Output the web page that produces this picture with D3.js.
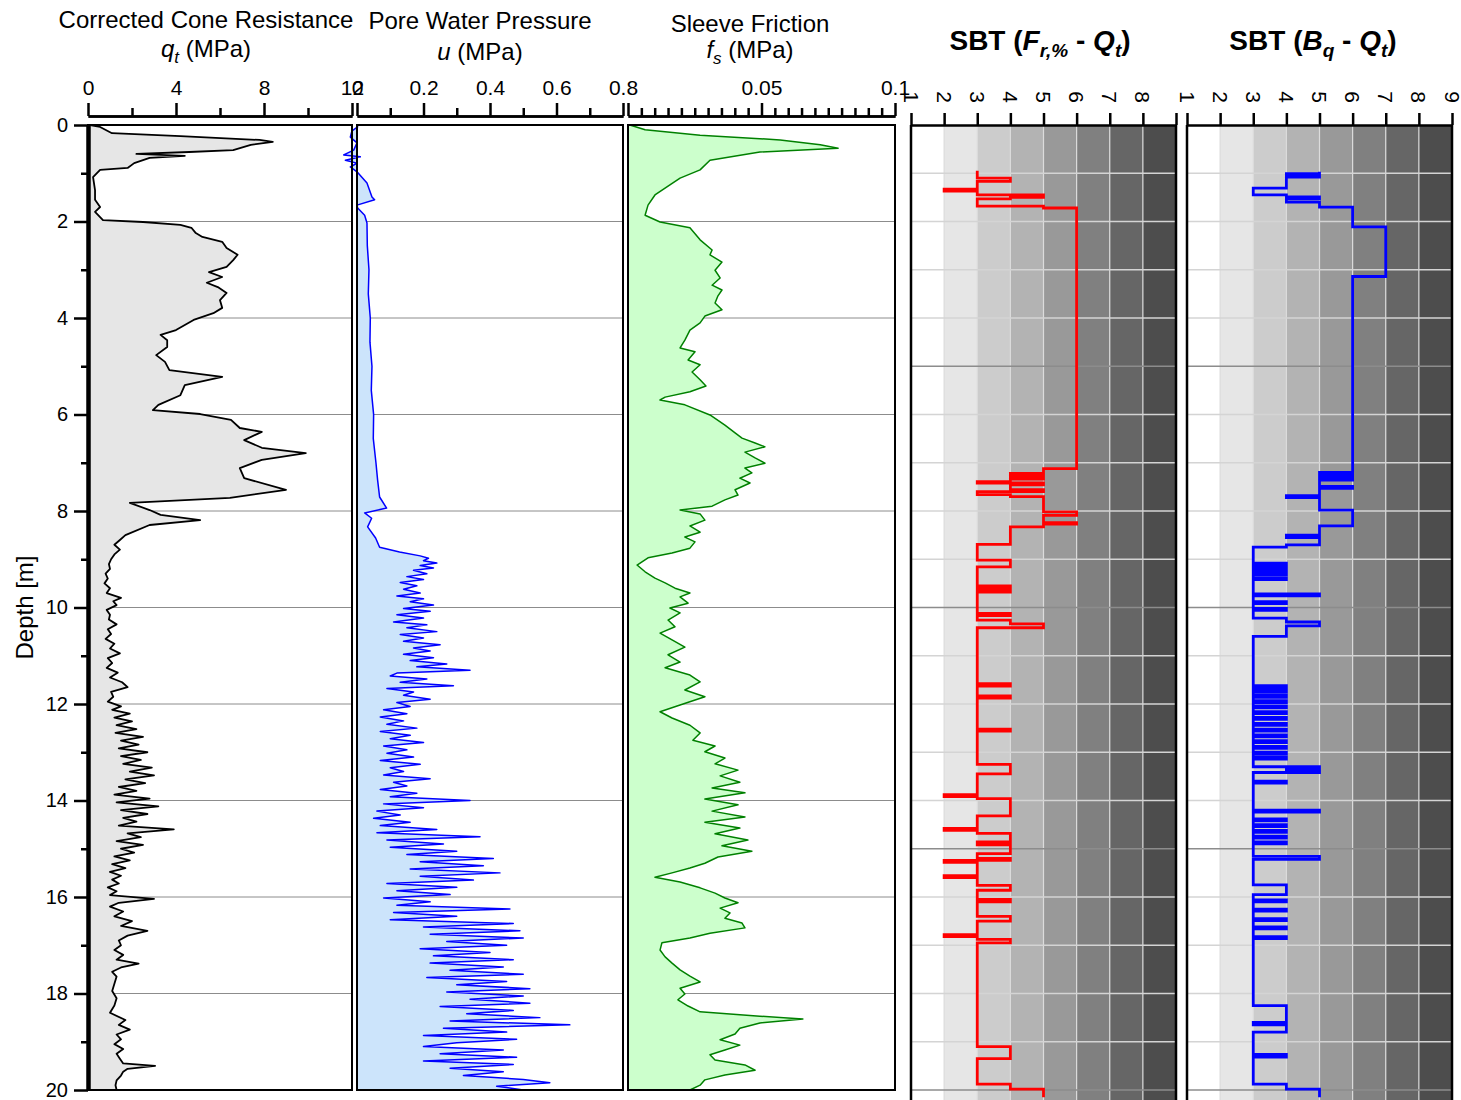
<!DOCTYPE html>
<html>
<head>
<meta charset="utf-8">
<script src="https://cdn.jsdelivr.net/npm/d3@7"></script>
<style>
  body { margin: 0; background: #fff; }
  svg { display: block; }
  text { font-family: Arial, "Liberation Sans", Helvetica, sans-serif; fill: #000; }
</style>
</head>
<body>
<svg id="chart" width="1461" height="1100"></svg>
<script>
// ---- CPT sounding: depth [m] and measured values ----
const qtDepth = [0,0.04,0.17,0.23,0.31,0.35,0.41,0.52,0.56,0.6,0.64,0.68,0.79,0.89,0.93,1.08,1.35,1.55,1.7,1.8,1.97,2.01,2.07,2.13,2.24,2.32,2.42,2.55,2.69,2.8,2.94,3.05,3.15,3.27,3.36,3.48,3.63,3.79,3.9,4.04,4.25,4.35,4.46,4.6,4.77,4.91,5.08,5.22,5.39,5.6,5.8,5.91,5.99,6.11,6.28,6.36,6.53,6.69,6.8,6.94,7.11,7.32,7.56,7.73,7.83,7.98,8.08,8.19,8.29,8.5,8.6,8.7,
  8.8,8.9,9.0,9.1,9.2,9.3,9.4,9.5,9.6,9.7,9.8,9.87,9.95,10.05,10.15,10.25,10.35,10.45,10.55,10.65,10.75,10.85,10.95,11.05,11.15,11.25,11.35,11.45,11.55,11.65,11.75,11.85,11.95,12.05,12.12,12.2,12.28,12.36,12.44,12.52,12.6,12.68,12.76,12.84,12.92,13.0,13.08,13.16,13.24,13.32,13.4,13.48,13.56,13.64,13.72,13.8,13.88,13.96,14.04,14.12,14.2,14.28,14.36,14.44,14.52,14.6,14.68,14.76,14.84,14.92,15.0,15.08,15.16,15.24,15.32,15.4,15.48,15.56,15.64,15.72,15.8,15.88,15.96,16.04,16.12,16.2,16.3,16.4,16.5,16.6,16.7,16.8,16.9,17.0,17.1,17.2,17.3,17.38,17.46,17.55,17.65,17.8,17.95,18.1,18.25,18.4,18.55,18.65,18.75,18.85,18.95,19.05,19.15,19.25,19.35,19.45,19.5,19.56,19.62,19.7,19.8,19.9,20];
const qtValues = [0.09,0.55,1.09,4.2,7.8,8.4,7.4,6.6,4.6,2.2,4.4,2.8,2.1,1.8,0.55,0.23,0.32,0.32,0.55,0.32,0.68,2.5,4.2,4.7,4.9,5.2,6.1,6.3,6.8,6.6,6.3,5.5,6.1,5.4,5.9,6.3,6.0,6.1,5.7,4.8,4.0,3.3,3.6,3.6,3.1,3.5,3.7,6.1,4.4,4.2,3.2,2.95,5.1,6.5,6.9,7.9,7.1,7.9,9.9,7.9,6.9,7.1,9.0,6.45,1.9,2.8,3.3,5.1,2.8,1.7,1.45,1.2,
  1.45,1.2,1.05,0.95,1.0,0.8,0.9,0.75,1.0,0.85,1.5,1.15,1.3,0.85,1.0,0.95,1.3,0.9,1.05,0.8,1.2,1.0,1.45,0.9,1.1,0.85,1.35,1.0,1.55,1.8,1.05,1.15,0.9,1.5,1.1,1.9,1.2,2.0,1.3,2.2,1.25,2.5,1.5,2.3,1.4,2.7,1.5,2.4,1.6,2.9,1.9,3.0,1.7,2.6,1.4,2.2,1.2,2.8,1.3,3.2,1.5,2.7,1.6,2.2,1.4,3.9,1.8,2.4,1.3,2.5,1.5,2.1,1.2,1.9,1.1,1.7,1.0,1.5,1.1,1.4,0.9,1.3,1.0,3.0,1.4,1.0,1.6,1.2,2.0,1.5,2.7,1.8,1.4,1.5,1.2,1.6,1.3,2.3,1.5,1.1,1.3,1.2,1.1,1.3,1.2,1.0,1.7,1.4,1.9,1.3,1.5,1.2,1.6,1.3,1.45,1.6,3.05,1.8,1.6,1.5,1.3,1.25,1.3];

const uDepth = [0,0.04,0.12,0.25,0.37,0.52,0.62,0.66,0.73,0.79,0.87,0.97,1.2,1.49,1.55,1.66,1.72,1.87,2.03,2.5,3.0,3.5,4.0,4.5,5.0,5.5,6.0,6.5,7.0,7.36,7.71,7.94,8.04,8.15,8.33,8.56,8.75,8.85,
  8.93,8.98,9.03,9.08,9.13,9.18,9.23,9.3,9.36,9.42,9.48,9.55,9.62,9.7,9.76,9.82,9.88,9.95,10.02,10.08,10.15,10.22,10.3,10.36,10.42,10.5,10.56,10.63,10.7,10.77,10.84,10.9,10.97,11.04,11.1,11.17,11.23,11.3,11.36,11.42,11.48,11.55,11.62,11.68,11.75,11.82,11.9,11.97,12.05,12.12,12.2,12.27,12.35,12.42,12.5,12.57,12.65,12.72,12.8,12.87,12.95,13.02,13.1,13.17,13.25,13.32,13.4,13.47,13.55,13.62,13.7,13.77,13.85,13.92,14.0,14.07,14.15,14.22,14.3,14.37,14.45,14.52,14.6,14.67,14.75,14.82,14.9,14.97,15.05,15.12,15.2,15.27,15.35,15.42,15.5,15.57,15.65,15.72,15.8,15.87,15.95,16.02,16.1,16.17,16.25,16.32,16.4,16.47,16.55,16.62,16.7,16.77,16.85,16.92,17.0,17.07,17.15,17.22,17.3,17.37,17.45,17.52,17.6,17.67,17.75,17.82,17.9,17.97,18.05,18.12,18.2,18.27,18.35,18.42,18.5,18.57,18.65,18.72,18.8,18.87,18.95,19.02,19.1,19.17,19.25,19.32,19.4,19.47,19.55,19.62,19.7,19.78,19.85,19.92,20];
const uValues = [0,0.002,-0.015,-0.02,0,-0.01,-0.04,0.01,-0.035,0,-0.02,0,0.03,0.045,0.053,0,0.002,0.023,0.03,0.031,0.036,0.034,0.04,0.039,0.045,0.043,0.05,0.049,0.057,0.062,0.068,0.089,0.023,0.044,0.032,0.056,0.068,0.128,
  0.19,0.215,0.2,0.24,0.19,0.23,0.17,0.21,0.15,0.2,0.13,0.18,0.14,0.19,0.12,0.2,0.16,0.23,0.14,0.22,0.12,0.2,0.11,0.21,0.15,0.24,0.13,0.2,0.14,0.25,0.17,0.22,0.14,0.23,0.16,0.27,0.18,0.34,0.12,0.1,0.21,0.13,0.29,0.09,0.17,0.14,0.22,0.12,0.16,0.08,0.15,0.07,0.14,0.09,0.18,0.07,0.16,0.1,0.2,0.08,0.15,0.09,0.17,0.07,0.19,0.1,0.14,0.08,0.22,0.11,0.15,0.07,0.18,0.1,0.34,0.08,0.2,0.06,0.13,0.05,0.16,0.07,0.24,0.06,0.37,0.09,0.26,0.1,0.3,0.15,0.41,0.19,0.38,0.16,0.43,0.19,0.35,0.09,0.3,0.12,0.28,0.08,0.22,0.12,0.46,0.11,0.3,0.1,0.47,0.2,0.49,0.22,0.5,0.27,0.45,0.19,0.4,0.23,0.47,0.22,0.44,0.28,0.5,0.21,0.45,0.3,0.52,0.27,0.5,0.34,0.52,0.25,0.47,0.33,0.55,0.28,0.64,0.26,0.45,0.2,0.48,0.3,0.2,0.44,0.25,0.48,0.2,0.47,0.28,0.44,0.32,0.5,0.58,0.42,0.5];

const fsDepth = [0,0.1,0.21,0.31,0.41,0.48,0.56,0.73,0.93,1.1,1.24,1.45,1.66,1.87,2.01,2.13,2.38,2.59,2.69,2.84,3.01,3.17,3.32,3.42,3.54,3.69,3.83,3.96,4.1,4.25,4.46,4.62,4.7,4.87,4.97,5.12,5.28,5.41,5.53,5.64,5.7,5.8,6.01,6.22,6.38,6.49,6.59,6.67,6.78,6.9,7.01,7.11,7.21,7.32,7.42,7.56,7.67,7.77,7.9,7.98,8.06,8.19,8.31,8.44,8.54,8.64,8.77,8.87,8.97,9.12,9.26,9.39,9.49,9.6,9.7,9.78,9.91,10.01,10.11,10.26,10.4,10.53,10.67,10.82,10.98,11.13,11.25,11.4,11.54,11.71,11.85,12.02,12.16,12.29,12.44,12.6,12.75,12.87,12.99,13.12,13.24,13.37,13.49,13.62,13.74,13.84,13.97,14.09,14.22,14.34,14.45,14.57,14.69,14.82,14.94,15.05,15.17,15.3,15.4,15.5,15.59,15.69,15.81,15.92,16.02,16.12,16.23,16.33,16.44,16.54,16.64,16.75,16.85,16.95,17.1,17.24,17.37,17.51,17.64,17.76,17.89,18.01,18.13,18.26,18.38,18.47,18.53,18.61,18.72,18.84,18.96,19.07,19.17,19.27,19.38,19.48,19.59,19.69,19.79,19.9,20];
const fsValues = [0.0007,0.0064,0.027,0.057,0.072,0.0787,0.0494,0.0307,0.027,0.0195,0.0157,0.0101,0.0075,0.0064,0.012,0.0232,0.027,0.0315,0.0307,0.0352,0.0326,0.0345,0.0315,0.0352,0.0337,0.0326,0.0352,0.0288,0.027,0.0232,0.0213,0.0195,0.0251,0.0225,0.027,0.024,0.027,0.0292,0.0232,0.0139,0.012,0.0213,0.0307,0.0363,0.0401,0.0427,0.0476,0.0513,0.0438,0.0476,0.0513,0.0438,0.0464,0.0419,0.0457,0.0401,0.0412,0.0363,0.0315,0.0195,0.027,0.0288,0.0232,0.027,0.0213,0.0251,0.0232,0.0165,0.0075,0.0034,0.0064,0.0101,0.0139,0.0176,0.0232,0.0195,0.0225,0.0157,0.0195,0.015,0.0176,0.012,0.0165,0.0213,0.015,0.0195,0.0139,0.0232,0.027,0.0213,0.0288,0.0195,0.012,0.0165,0.0232,0.027,0.0243,0.0326,0.0288,0.0363,0.0326,0.0412,0.0345,0.0419,0.0315,0.0438,0.0288,0.0412,0.0315,0.0438,0.0288,0.0419,0.0326,0.0449,0.0352,0.0464,0.0337,0.0288,0.0232,0.0165,0.0101,0.0195,0.027,0.0326,0.0363,0.0412,0.0345,0.0382,0.0363,0.0427,0.0438,0.0307,0.0232,0.0127,0.012,0.0139,0.0165,0.0195,0.0232,0.027,0.0195,0.0213,0.0187,0.0225,0.027,0.0494,0.0655,0.0494,0.0419,0.0401,0.0345,0.0419,0.0363,0.0307,0.0326,0.0438,0.0476,0.0363,0.0288,0.027,0.0232];

// Soil behaviour type zones: depth where each zone starts, and zone number
const sbtFrTop  = [0.95,1.10,1.17,1.33,1.37,1.45,1.50,1.53,1.68,1.72,7.12,7.22,7.25,7.28,7.31,7.34,7.39,7.42,7.46,7.56,7.60,7.66,7.70,8.02,8.09,8.24,8.27,8.33,8.69,9.02,9.16,9.55,9.60,9.63,9.68,10.12,10.17,10.26,10.34,10.42,11.58,11.63,11.83,11.88,12.52,12.56,13.25,13.45,13.88,13.92,13.96,14.2,14.32,14.58,14.62,14.68,14.86,14.92,15.1,15.2,15.24,15.28,15.56,15.6,15.76,15.86,16.05,16.1,16.4,16.5,16.78,16.82,16.88,16.95,19.1,19.35,19.88,19.98];
const sbtFrZone = [3,4,3,2,3,5,4,3,5,6,5,4,5,4,5,4,3,5,4,5,3,4,5,6,5,6,5,4,3,4,3,4,3,4,3,4,3,4,5,3,4,3,4,3,4,3,4,3,2,3,4,4,3,2,3,4,3,4,3,4,2,3,2,3,4,3,4,3,4,3,2,3,4,3,4,3,4,5];
const sbtBqTop  = [0.97,1.01,1.04,1.08,1.31,1.45,1.49,1.53,1.6,1.7,2.11,3.14,7.2,7.25,7.29,7.33,7.36,7.49,7.53,7.68,7.72,7.98,8.31,8.5,8.55,8.7,8.75,9.08,9.12,9.18,9.22,9.28,9.32,9.38,9.42,9.72,9.76,9.88,9.92,10.02,10.06,10.22,10.3,10.38,10.6,11.62,11.66,11.72,11.76,11.82,11.86,11.93,11.97,12.04,12.08,12.16,12.2,12.28,12.32,12.4,12.44,12.52,12.56,12.64,12.68,12.76,12.8,12.88,12.92,13.0,13.04,13.1,13.14,13.3,13.34,13.38,13.42,13.6,13.64,14.2,14.24,14.38,14.42,14.5,14.54,14.62,14.66,14.74,14.78,14.86,14.9,15.16,15.22,15.75,15.95,16.06,16.1,16.25,16.29,16.45,16.49,16.62,16.66,16.82,16.86,18.25,18.6,18.65,18.8,19.26,19.32,19.88,19.98];
const sbtBqZone = [5,4,5,4,3,4,5,4,5,6,7,6,5,6,5,6,5,6,5,4,5,6,5,4,5,4,3,4,3,4,3,4,3,4,3,5,3,4,3,4,3,4,5,4,3,4,3,4,3,4,3,4,3,4,3,4,3,4,3,4,3,4,3,4,3,4,3,4,3,4,3,4,3,5,4,5,3,4,3,5,3,4,3,4,3,4,3,4,3,4,3,5,3,4,3,4,3,4,3,4,3,4,3,4,3,4,3,4,3,4,3,4,5];

// Axis ticks
const depthTicks = [0,2,4,6,8,10,12,14,16,18,20];
const qtTicks = [0,4,8,12], qtMinor = [2,6,10];
const uTicks = [0,0.2,0.4,0.6,0.8], uMinor = [0.1,0.3,0.5,0.7];
const fsTicks = [0,0.05,0.1], fsTickLabels = ["","0.05","0.1"];
const fsMinor = d3.range(1,20).map(i => i*0.005).filter(v => Math.abs(v-0.05) > 1e-9);
const sbtTicks = [1,2,3,4,5,6,7,8,9];
const sbtFrLabels = [1,2,3,4,5,6,7,8];
const sbtBqLabels = [1,2,3,4,5,6,7,8,9];
const sbtShades = ["#ffffff","#e6e6e6","#cccccc","#b3b3b3","#999999","#808080","#666666","#4d4d4d"];

const svg = d3.select("#chart");
const yTop = 125, yBottom = 1090;
const y = d3.scaleLinear().domain([0,20]).range([yTop,yBottom]);

const xq = d3.scaleLinear().domain([0,12]).range([88,352]);
const xu = d3.scaleLinear().domain([0,0.8]).range([357,623]);
const xf = d3.scaleLinear().domain([0,0.1]).range([628,895]);
const xFr = d3.scaleLinear().domain([1,9]).range([911,1176]);
const xBq = d3.scaleLinear().domain([1,9]).range([1187,1452]);

function zip(ds, vs) { return ds.map((d,i) => ({d, v: vs[i]})); }

// ---------- horizontal grid for measurement panels ----------
function grid2(x) {
  svg.append("g").selectAll("line").data(depthTicks.slice(1,-1)).join("line")
    .attr("x1", x.range()[0]).attr("x2", x.range()[1])
    .attr("y1", d => y(d)).attr("y2", d => y(d))
    .attr("stroke", "#8c8c8c").attr("stroke-width", 1);
}
[xq, xu, xf].forEach(grid2);

// ---------- filled profiles ----------
function profile(x, data, fill, stroke, w) {
  const area = d3.area().y(d => y(d.d)).x0(x(0)).x1(d => x(d.v));
  const line = d3.line().y(d => y(d.d)).x(d => x(d.v));
  svg.append("path").datum(data).attr("d", area).attr("fill", fill);
  svg.append("path").datum(data).attr("d", line).attr("fill", "none")
    .attr("stroke", stroke).attr("stroke-width", w).attr("stroke-linejoin", "round");
}
profile(xq, zip(qtDepth, qtValues), "#e6e6e6", "#000", 1.8);
profile(xu, zip(uDepth, uValues), "#cce4fb", "#0000ff", 1.5);
profile(xf, zip(fsDepth, fsValues), "#ccffcc", "#008000", 1.5);

// frames
[xq, xu, xf].forEach(x => {
  svg.append("rect").attr("x", x.range()[0]).attr("y", yTop)
    .attr("width", x.range()[1]-x.range()[0]).attr("height", yBottom-yTop)
    .attr("fill", "none").attr("stroke", "#000").attr("stroke-width", 2);
});

// ---------- top axes ----------
function topAxis(x, ticks, minor, yPos, labels) {
  const g = svg.append("g").attr("transform", `translate(0,${yPos})`);
  g.call(d3.axisTop(x).tickValues(minor).tickSize(8).tickSizeOuter(0).tickFormat(""));
  const g2 = svg.append("g").attr("transform", `translate(0,${yPos})`);
  g2.call(d3.axisTop(x).tickValues(ticks).tickSize(13).tickSizeOuter(0).tickPadding(8)
    .tickFormat((d,i) => labels ? labels[i] : d3.format("")(d)));
  [g, g2].forEach(a => {
    a.selectAll(".domain").attr("stroke-width", 2.5).attr("stroke", "#000");
    a.selectAll(".tick line").attr("stroke-width", 2.5).attr("stroke", "#000");
    a.selectAll("text").attr("font-size", 21).attr("font-family", "Arial, 'Liberation Sans', sans-serif").attr("fill", "#000");
  });
  g2.selectAll(".tick text").filter(function() { return this.textContent === ""; }).remove();
}
topAxis(xq, qtTicks, qtMinor, 116);
topAxis(xu, uTicks, uMinor, 116);
topAxis(xf, fsTicks, fsMinor, 116, fsTickLabels);

// ---------- depth axis ----------
const gy = svg.append("g").attr("transform", "translate(88,0)");
gy.call(d3.axisLeft(y).tickValues(d3.range(1,20,2)).tickSize(7).tickSizeOuter(0).tickFormat(""));
const gy2 = svg.append("g").attr("transform", "translate(88,0)");
gy2.call(d3.axisLeft(y).tickValues(depthTicks).tickSize(14).tickSizeOuter(0).tickPadding(6));
[gy, gy2].forEach(a => {
  a.selectAll(".domain").attr("stroke-width", 4).attr("stroke", "#000");
  a.selectAll(".tick line").attr("stroke-width", 2.5).attr("stroke", "#000");
  a.selectAll("text").attr("font-size", 20).attr("font-family", "Arial, 'Liberation Sans', sans-serif").attr("fill", "#000");
});
svg.append("text").attr("transform", `translate(33,${y(10)}) rotate(-90)`)
  .attr("text-anchor", "middle").attr("font-size", 24).text("Depth [m]");

// ---------- SBT panels ----------
const sbtBottom = 1100;
function sbtPanel(x, tops, zones, color, labels) {
  const g = svg.append("g");
  g.selectAll("rect.band").data(sbtShades).join("rect")
    .attr("x", (c,i) => x(i+1)).attr("width", (c,i) => x(i+2)-x(i+1))
    .attr("y", yTop).attr("height", sbtBottom-yTop).attr("fill", c => c);
  g.selectAll("line.v").data(d3.range(2,9)).join("line")
    .attr("x1", d => x(d)).attr("x2", d => x(d)).attr("y1", yTop).attr("y2", sbtBottom)
    .attr("stroke", "#dcdcdc").attr("stroke-width", 1.2);
  g.selectAll("line.h").data(d3.range(1,21)).join("line")
    .attr("x1", x.range()[0]).attr("x2", x.range()[1])
    .attr("y1", d => y(d)).attr("y2", d => y(d))
    .attr("stroke", d => d % 5 === 0 ? "#8c8c8c" : "#d4d4d4").attr("stroke-width", 1.5);
  const pts = tops.map((t,i) => ({d: t, v: zones[i]}));
  pts.push({d: 20.15, v: zones[zones.length-1]});
  g.append("path").datum(pts)
    .attr("d", d3.line().x(p => x(p.v)).y(p => y(p.d)).curve(d3.curveStepBefore))
    .attr("fill", "none").attr("stroke", color).attr("stroke-width", 2.8);
  [x.range()[0], x.range()[1]].forEach(px => {
    g.append("line").attr("x1", px).attr("x2", px).attr("y1", yTop).attr("y2", sbtBottom)
      .attr("stroke", "#000").attr("stroke-width", 2.5);
  });
  const ax = svg.append("g").attr("transform", `translate(0,${yTop})`);
  ax.call(d3.axisTop(x).tickValues(sbtTicks).tickSize(12).tickSizeOuter(0).tickFormat(""));
  ax.selectAll(".domain").attr("stroke-width", 2.5).attr("stroke", "#000");
  ax.selectAll(".tick line").attr("stroke-width", 2.5).attr("stroke", "#000");
  svg.append("g").selectAll("text").data(labels).join("text")
    .attr("transform", d => `translate(${x(d)},97) rotate(90)`)
    .attr("text-anchor", "middle").attr("dominant-baseline", "central")
    .attr("font-size", 21).text(d => d);
}
sbtPanel(xFr, sbtFrTop, sbtFrZone, "#ff0000", sbtFrLabels);
sbtPanel(xBq, sbtBqTop, sbtBqZone, "#0000ff", sbtBqLabels);

// ---------- titles ----------
function title(cx, y1, line1, y2, build) {
  svg.append("text").attr("x", cx).attr("y", y1).attr("text-anchor", "middle")
    .attr("font-size", 24).text(line1);
  const t = svg.append("text").attr("x", cx).attr("y", y2).attr("text-anchor", "middle").attr("font-size", 24);
  build(t);
}
title(206, 28, "Corrected Cone Resistance", 57, t => {
  t.append("tspan").attr("font-style", "italic").text("q");
  t.append("tspan").attr("font-style", "italic").attr("font-size", 17).attr("dy", 6).text("t");
  t.append("tspan").attr("dy", -6).text(" (MPa)");
});
title(480, 29, "Pore Water Pressure", 60, t => {
  t.append("tspan").attr("font-style", "italic").text("u");
  t.append("tspan").text(" (MPa)");
});
title(750, 32, "Sleeve Friction", 58, t => {
  t.append("tspan").attr("font-style", "italic").text("f");
  t.append("tspan").attr("font-style", "italic").attr("font-size", 17).attr("dy", 6).text("s");
  t.append("tspan").attr("dy", -6).text("  (MPa)");
});
function sbtTitle(cx, build) {
  const t = svg.append("text").attr("x", cx).attr("y", 50).attr("text-anchor", "middle")
    .attr("font-size", 28).attr("font-weight", "bold");
  build(t);
}
sbtTitle(1040, t => {
  t.append("tspan").text("SBT (");
  t.append("tspan").attr("font-style", "italic").text("F");
  t.append("tspan").attr("font-style", "italic").attr("font-size", 19).attr("dy", 7).text("r,%");
  t.append("tspan").attr("dy", -7).text(" - ");
  t.append("tspan").attr("font-style", "italic").text("Q");
  t.append("tspan").attr("font-style", "italic").attr("font-size", 19).attr("dy", 7).text("t");
  t.append("tspan").attr("dy", -7).text(")");
});
sbtTitle(1313, t => {
  t.append("tspan").text("SBT (");
  t.append("tspan").attr("font-style", "italic").text("B");
  t.append("tspan").attr("font-style", "italic").attr("font-size", 19).attr("dy", 7).text("q");
  t.append("tspan").attr("dy", -7).text(" - ");
  t.append("tspan").attr("font-style", "italic").text("Q");
  t.append("tspan").attr("font-style", "italic").attr("font-size", 19).attr("dy", 7).text("t");
  t.append("tspan").attr("dy", -7).text(")");
});
</script>
</body>
</html>
